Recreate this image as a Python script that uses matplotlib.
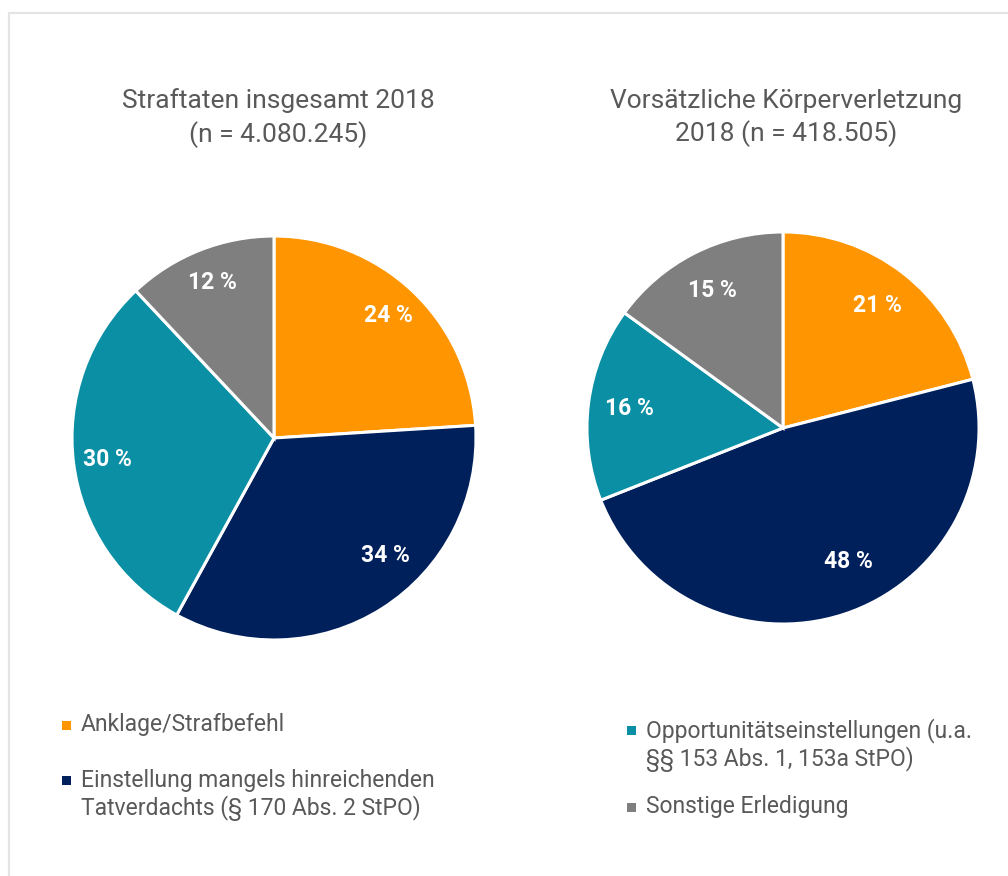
import numpy as np
import matplotlib

matplotlib.use("Agg")
import matplotlib.pyplot as plt  # noqa: E402
from matplotlib.patches import Rectangle  # noqa: E402

plt.rcParams["font.family"] = ["Roboto", "DejaVu Sans"]

# --------------------------------------------------------------------------- #
# data
# --------------------------------------------------------------------------- #
categories = [
    "Anklage/Strafbefehl",
    "Einstellung mangels hinreichenden\nTatverdachts (§ 170 Abs. 2 StPO)",
    "Opportunitätseinstellungen (u.a.\n§§ 153 Abs. 1, 153a StPO)",
    "Sonstige Erledigung",
]
colors = ["#FF9500", "#00205B", "#0A8FA4", "#7F7F7F"]

left_title = "Straftaten insgesamt 2018\n(n = 4.080.245)"
left_values = [24, 34, 30, 12]

right_title = "Vorsätzliche Körperverletzung\n2018 (n = 418.505)"
right_values = [21, 48, 16, 15]

# label nudges (degrees, counter-clockwise) where the original label sits
# off the wedge middle
left_shift = [0, 11, 0, 0]
right_shift = [0, 8, 0, 0]

W, H = 1008, 876
TEXT = "#595959"


def px(x0, y0, x1, y1):
    """pixel box (top-left origin) -> figure fraction rect"""
    return [x0 / W, 1 - y1 / H, (x1 - x0) / W, (y1 - y0) / H]


def draw_pie(ax, values, shift, pct_r):
    wedges, _ = ax.pie(values, colors=colors, startangle=90, counterclock=False,
                       radius=1, wedgeprops=dict(edgecolor="white", linewidth=2.2))
    for w, v, s in zip(wedges, values, shift):
        mid = np.deg2rad((w.theta1 + w.theta2) / 2 + s)
        r = pct_r - (0.03 if s else 0)
        ax.text(r * np.cos(mid), r * np.sin(mid), f"{v} %",
                ha="center", va="center", color="white", fontsize=16.5,
                fontweight="bold")
    ax.set_xlim(-1.01, 1.01)
    ax.set_ylim(-1.01, 1.01)
    ax.set_aspect("equal")
    ax.axis("off")


fig = plt.figure(figsize=(W / 100, H / 100), dpi=100)

# light frame
fig.add_artist(Rectangle((9 / W, -0.01), 1.0, 1 - 13 / H + 0.01,
                         transform=fig.transFigure, fill=False,
                         edgecolor="#E4E4E4", linewidth=1.6))

ax1 = fig.add_axes(px(70, 234, 478, 642))
draw_pie(ax1, left_values, left_shift, 0.83)
ax2 = fig.add_axes(px(585, 230, 981, 626))
draw_pie(ax2, right_values, right_shift, 0.79)

fig.text(278 / W, 1 - 118 / H, left_title, ha="center", va="center",
         fontsize=19, color=TEXT, linespacing=1.35)
fig.text(786 / W, 1 - 118 / H, right_title, ha="center", va="center",
         fontsize=19, color=TEXT, linespacing=1.35)

# legend, two columns laid out by hand: (square x, first-line y, block centre y)
legend_pos = [(62, 725, 725), (62, 780, 795), (627, 730, 745), (627, 807, 807)]
for cat, col, (x, y, yc) in zip(categories, colors, legend_pos):
    fig.add_artist(Rectangle((x / W, 1 - (y + 4.5) / H), 9 / W, 9 / H,
                             transform=fig.transFigure, facecolor=col,
                             edgecolor="none"))
    fig.text((x + 19) / W, 1 - yc / H, cat, ha="left", va="center",
             fontsize=16.5, color=TEXT, linespacing=1.15)

fig.savefig("out.png", dpi=100)
